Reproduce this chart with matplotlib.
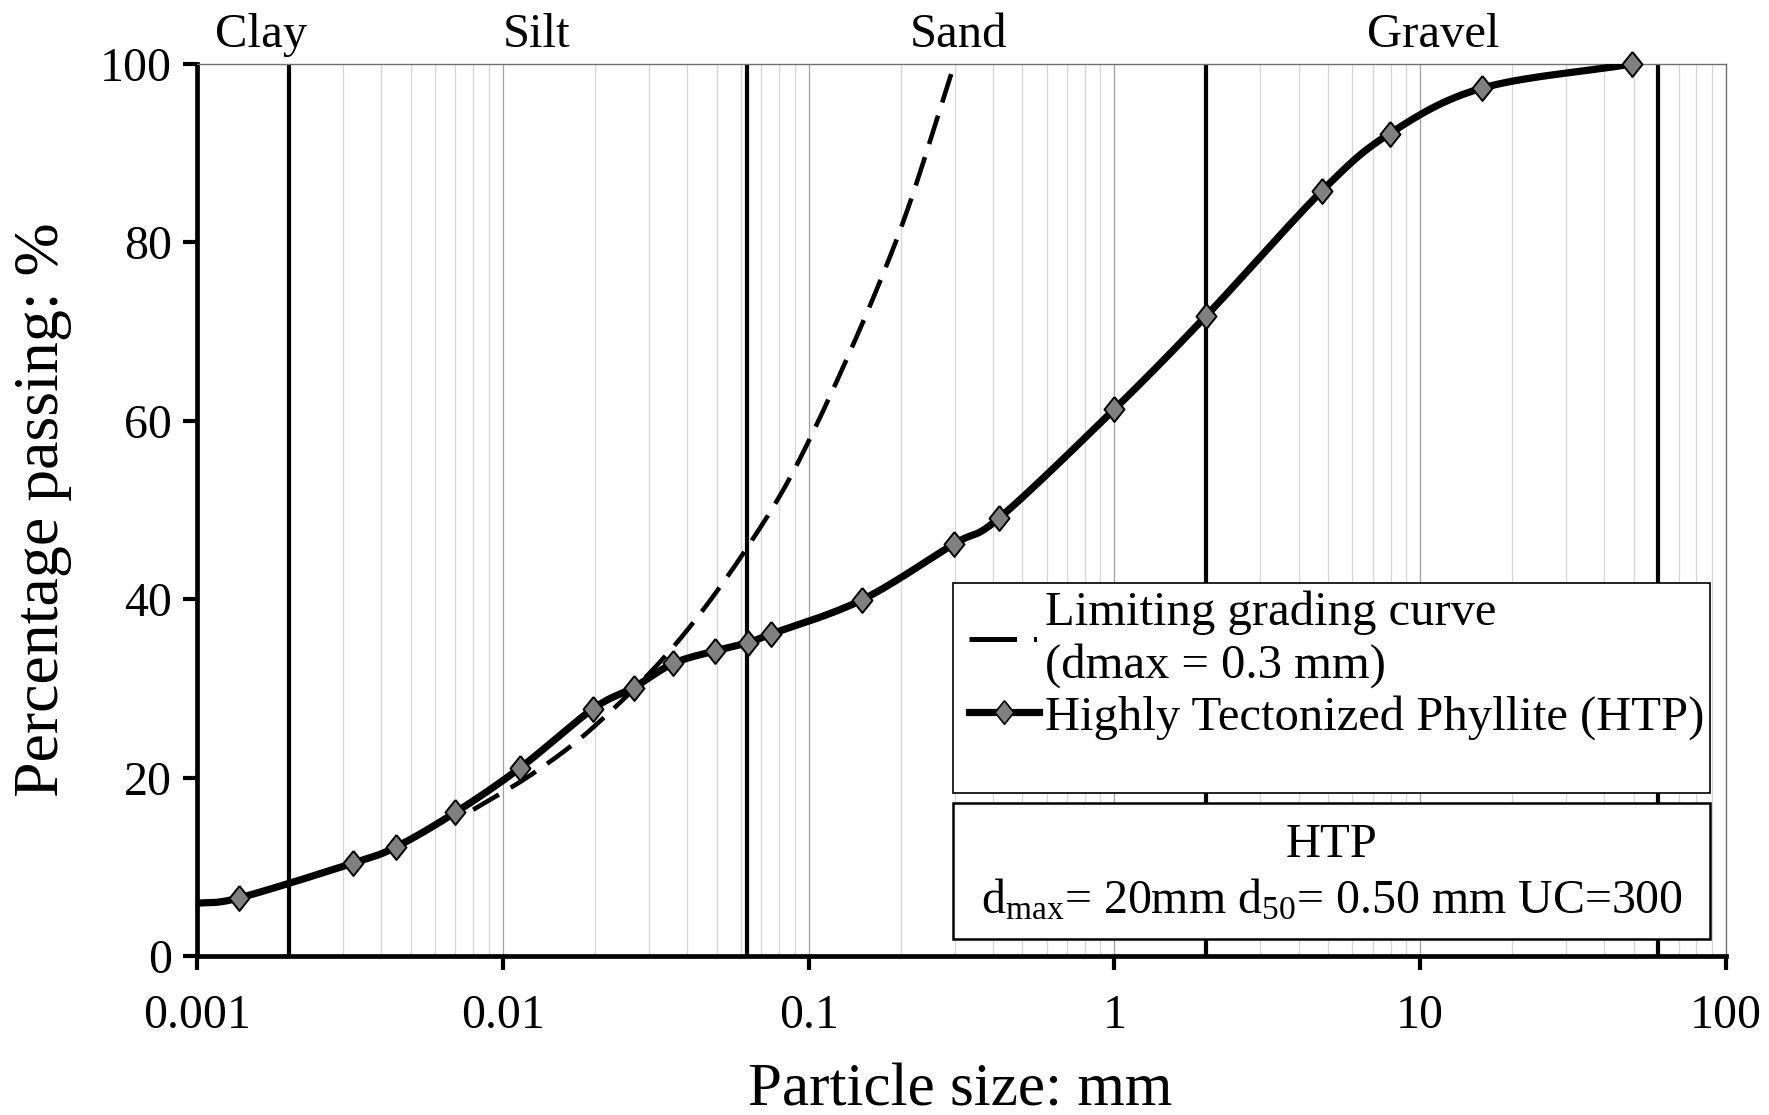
import numpy as np
import matplotlib
matplotlib.use("Agg")
import matplotlib.pyplot as plt
from matplotlib.patches import Rectangle
from matplotlib.lines import Line2D
from matplotlib.ticker import FixedLocator, FixedFormatter, NullFormatter

plt.rcParams["font.family"] = ["Liberation Serif", "DejaVu Serif"]
plt.rcParams["mathtext.fontset"] = "custom"
plt.rcParams["mathtext.rm"] = "Liberation Serif"
plt.rcParams["mathtext.default"] = "rm"

# HTP grading curve (particle size mm, % passing)
htp_size = [0.001, 0.00137, 0.00323, 0.00446, 0.0070, 0.0114, 0.0197, 0.0268, 0.0361,
            0.0494, 0.0632, 0.0755, 0.149, 0.299, 0.42, 1.0, 2.0, 4.78, 7.95, 15.96, 49.4]
htp_pass = [5.9, 6.5, 10.4, 12.2, 16.1, 21.1, 27.7, 30.1, 32.8,
            34.2, 35.1, 36.1, 39.9, 46.2, 49.1, 61.3, 71.8, 85.8, 92.2, 97.3, 100.0]

# limiting grading curve (dmax = 0.3 mm)
lim_size = [0.008, 0.0126, 0.020, 0.036, 0.063, 0.10, 0.19, 0.30]
lim_pass = [16.4, 20.5, 25.8, 34.6, 45.8, 57.7, 79.5, 100.0]

# soil class boundaries and labels
class_bounds = [0.002, 0.063, 2.0, 60.0]
class_names = ["Clay", "Silt", "Sand", "Gravel"]
class_label_x = [0.00162, 0.0129, 0.31, 11.0]

x_ticks = [0.001, 0.01, 0.1, 1, 10, 100]
x_ticklabels = ["0.001", "0.01", "0.1", "1", "10", "100"]
y_ticks = [0, 20, 40, 60, 80, 100]

FS = 35
TICK_FS = 34.5


def smooth(xs, ys, n=30):
    # excel-like smoothed line (catmull-rom in log x)
    lx = np.log10(xs)
    ys = np.asarray(ys, float)
    px = np.concatenate([[2 * lx[0] - lx[1]], lx, [2 * lx[-1] - lx[-2]]])
    py = np.concatenate([[2 * ys[0] - ys[1]], ys, [2 * ys[-1] - ys[-2]]])
    out_x, out_y = [], []
    t = np.linspace(0, 1, n)
    for i in range(1, len(px) - 2):
        p0, p1, p2, p3 = px[i - 1:i + 3]
        q0, q1, q2, q3 = py[i - 1:i + 3]
        cx = 0.5 * ((2 * p1) + (-p0 + p2) * t + (2 * p0 - 5 * p1 + 4 * p2 - p3) * t ** 2
                    + (-p0 + 3 * p1 - 3 * p2 + p3) * t ** 3)
        cy = 0.5 * ((2 * q1) + (-q0 + q2) * t + (2 * q0 - 5 * q1 + 4 * q2 - q3) * t ** 2
                    + (-q0 + 3 * q1 - 3 * q2 + q3) * t ** 3)
        out_x.extend(cx)
        out_y.extend(cy)
    return 10 ** np.array(out_x), np.array(out_y)


fig = plt.figure(figsize=(17.69, 11.15), dpi=100)
ax = fig.add_axes([197 / 1769, (1115 - 956) / 1115, 1529 / 1769, 892 / 1115])
ax.set_xscale("log")
ax.set_xlim(0.001, 100)
ax.set_ylim(0, 100)

# grid
minors = [m * 10.0 ** e for e in range(-3, 2) for m in range(2, 10)]
for v in minors:
    ax.axvline(v, color="#d4d4d4", lw=0.9, zorder=0)
for v in x_ticks[1:-1]:
    ax.axvline(v, color="#a0a0a0", lw=0.9, zorder=0)

for b in class_bounds:
    ax.axvline(b, color="black", lw=3.0, zorder=1)

lx, ly = smooth(lim_size, lim_pass)
ax.plot(lx, ly, color="black", lw=3.3, dashes=(6.5, 3), zorder=2)

hx, hy = smooth(htp_size, htp_pass)
ax.plot(hx, hy, color="black", lw=5.2, solid_capstyle="round", zorder=3)
diamond = [(0, 1), (0.8, 0), (0, -1), (-0.8, 0), (0, 1)]
ax.plot(htp_size[1:], htp_pass[1:], ls="none", marker=diamond, ms=18,
        mfc="#808080", mec="black", mew=1.4, zorder=4, clip_on=False)

# class labels above the plot
trans = ax.get_xaxis_transform()
for name, xv in zip(class_names, class_label_x):
    ax.text(xv, 1.032, name, transform=trans, ha="center", va="center", fontsize=FS)

# ticks
ax.xaxis.set_major_locator(FixedLocator(x_ticks))
ax.xaxis.set_major_formatter(FixedFormatter(x_ticklabels))
ax.xaxis.set_minor_formatter(NullFormatter())
ax.tick_params(axis="x", which="minor", length=0)
ax.set_yticks(y_ticks)
ax.tick_params(axis="both", which="major", direction="out", length=10, width=3.0,
               labelsize=TICK_FS, colors="black")
ax.tick_params(axis="x", pad=17)
ax.tick_params(axis="y", pad=8)

for s in ["left", "bottom"]:
    ax.spines[s].set_linewidth(3.4)
    ax.spines[s].set_color("black")
for s in ["top", "right"]:
    ax.spines[s].set_linewidth(1.0)
    ax.spines[s].set_color("#707070")

fig.text(960 / 1769, 10 / 1115, "Particle size: mm", fontsize=44, ha="center", va="baseline")
ax.set_ylabel("Percentage passing: %", fontsize=46, labelpad=20)

# legend box
ax.add_patch(Rectangle((0.4944, 0.1827), 0.4951, 0.2353, transform=ax.transAxes,
                       facecolor="white", edgecolor="black", lw=1.2, zorder=5))
handles = [
    Line2D([], [], color="black", lw=3.6, dashes=(9.5, 3.4, 0.6, 3.4)),
    Line2D([], [], color="black", lw=5.2, marker=diamond, ms=17, mfc="#808080",
           mec="black", mew=1.2),
]
labels = ["Limiting grading curve\n(dmax = 0.3 mm)", "Highly Tectonized Phyllite (HTP)"]
leg = ax.legend(handles, labels, loc="upper left", bbox_to_anchor=(0.4985, 0.421),
                frameon=False, fontsize=FS, handlelength=1.45, handletextpad=0.12,
                labelspacing=0.14, borderpad=0.2, borderaxespad=0)
for t in leg.get_texts():
    t.set_linespacing(1.25)
leg.set_zorder(6)

# info box
ax.add_patch(Rectangle((0.4944, 0.019), 0.4951, 0.1525, transform=ax.transAxes,
                       facecolor="white", edgecolor="black", lw=1.8, zorder=5))
ax.text(0.742, 0.124, "HTP", transform=ax.transAxes, ha="center", va="center",
        fontsize=FS, zorder=6)
ax.text(0.742, 0.062, r"d$_{max}$= 20mm d$_{50}$= 0.50 mm UC=300", transform=ax.transAxes,
        ha="center", va="center", fontsize=34.5, zorder=6)

fig.savefig("out.png", dpi=100)
